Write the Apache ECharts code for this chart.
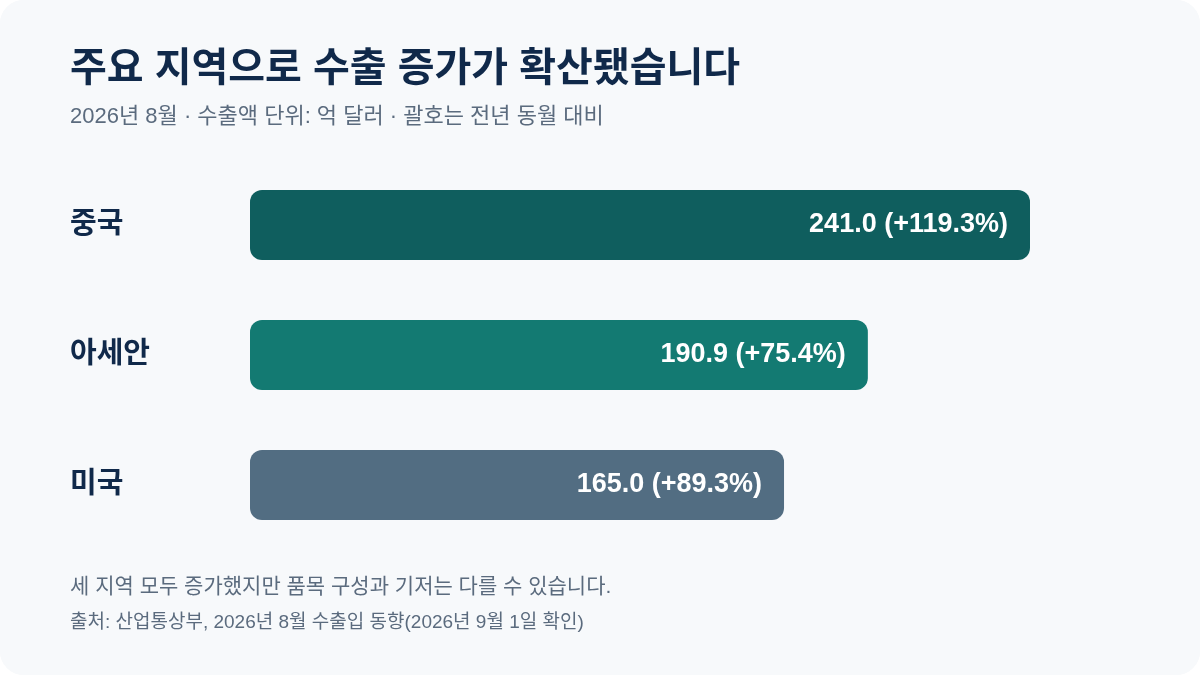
<!DOCTYPE html>
<html lang="ko">
<head>
<meta charset="utf-8">
<script src="https://cdn.jsdelivr.net/npm/echarts@6/dist/echarts.min.js"></script>
<style>
  html, body { margin: 0; padding: 0; background: #ffffff; }
  #chart { width: 1200px; height: 675px; border-radius: 24px; overflow: hidden; background: #f7f9fb; }
</style>
</head>
<body>
<div id="chart"></div>
<script>
const categories = ['중국', '아세안', '미국'];
const exportValues = [241.0, 190.9, 165.0];
const yoyChange = [119.3, 75.4, 89.3];
const barColors = ['#0f5e5e', '#137a72', '#526d82'];

const titleText = '주요 지역으로 수출 증가가 확산됐습니다';
const subtitleText = '2026년 8월 · 수출액 단위: 억 달러 · 괄호는 전년 동월 대비';
const noteText = '세 지역 모두 증가했지만 품목 구성과 기저는 다를 수 있습니다.';
const sourceText = '출처: 산업통상부, 2026년 8월 수출입 동향(2026년 9월 1일 확인)';

const FONT = "'Liberation Sans', 'Noto Sans CJK KR', sans-serif";
const chart = echarts.init(document.getElementById('chart'), null, { renderer: 'canvas' });

chart.setOption({
  backgroundColor: '#f7f9fb',
  animation: false,
  textStyle: { fontFamily: FONT },
  graphic: [
    { type: 'text', position: [70, 70], style: { text: titleText, fontFamily: FONT, fontSize: 40, fontWeight: 'bold', fill: '#10294a', textVerticalAlign: 'middle' } },
    { type: 'text', position: [70, 117], style: { text: subtitleText, fontFamily: FONT, fontSize: 22, fill: '#5b6b7e', textVerticalAlign: 'middle' } },
    { type: 'text', position: [70, 587], style: { text: noteText, fontFamily: FONT, fontSize: 21, fill: '#5b6b7e', textVerticalAlign: 'middle' } },
    { type: 'text', position: [70, 623], style: { text: sourceText, fontFamily: FONT, fontSize: 19, fill: '#5b6b7e', textVerticalAlign: 'middle' } }
  ],
  grid: { left: 250, top: 160, width: 881.4, height: 390, containLabel: false },
  xAxis: {
    type: 'value', min: 0, max: 272.33,
    show: false
  },
  yAxis: {
    type: 'category', data: categories, inverse: true,
    axisLine: { show: false }, axisTick: { show: false },
    axisLabel: { align: 'left', margin: 180, fontFamily: FONT, fontSize: 29, fontWeight: 'bold', color: '#10294a' }
  },
  series: [{
    type: 'bar',
    barWidth: 70,
    data: exportValues.map((v, i) => ({ value: v, itemStyle: { color: barColors[i], borderRadius: 12 } })),
    label: {
      show: true, position: 'insideRight', distance: 22,
      fontFamily: FONT, fontSize: 27, fontWeight: 'bold', color: '#ffffff',
      formatter: p => exportValues[p.dataIndex].toFixed(1) + ' (+' + yoyChange[p.dataIndex].toFixed(1) + '%)'
    }
  }]
});
</script>
</body>
</html>
